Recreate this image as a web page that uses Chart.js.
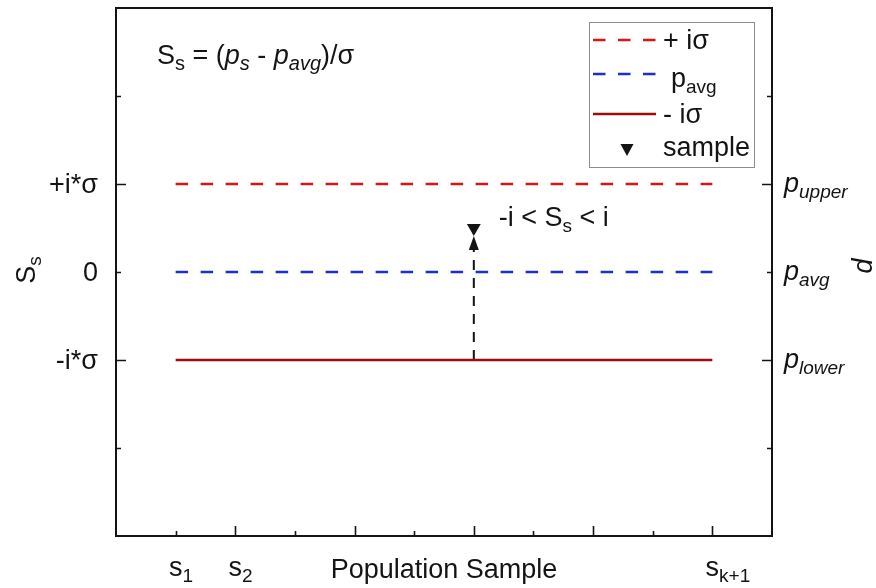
<!DOCTYPE html>
<html>
<head>
<meta charset="utf-8">
<script src="https://cdn.jsdelivr.net/npm/chart.js@4.4.1/dist/chart.umd.min.js"></script>
<style>
  html, body { margin: 0; padding: 0; background: #fff; }
  #wrap { width: 876px; height: 588px; }
</style>
</head>
<body>
<div id="wrap"><canvas id="c" width="876" height="588"></canvas></div>
<script>
// ---- chart data ----
const lineX   = [1, 10];          // first and last population sample
const upperY  = [1, 1];           // +iσ limit
const avgY    = [0, 0];           // mean
const lowerY  = [-1, -1];         // -iσ limit
const sampleX = [6];              // the sample being scored
const sampleY = [0.5];
const arrowY  = [-1, 0.5];        // arrow from the lower limit up to the sample

const xTickValues = [1, 2, 10];
const xTickSubs   = ['1', '2', 'k+1'];
const yTickValues = [1, 0, -1];
const yTickLabels = ['+i*σ', '0', '-i*σ'];
const pTickSubs   = ['upper', 'avg', 'lower'];

const FONT = '"Liberation Sans", Arial, sans-serif';
const FS = 27, SUB = 19;
const RED = '#d81414', BLUE = '#1d2ed0', DARK = '#9c0e0e', INK = '#141414';

const pts = (xs, ys) => xs.map((v, i) => ({ x: v, y: ys[i] }));

// draw a run of text pieces (normal / italic / subscript)
function rich(ctx, parts, x, y, align) {
  ctx.save();
  ctx.translate(x, y);
  let w = 0;
  const fonts = parts.map(p => `${p.i ? 'italic ' : ''}${p.s || FS}px ${FONT}`);
  parts.forEach((p, k) => { ctx.font = fonts[k]; w += ctx.measureText(p.t).width; });
  let cx = align === 'right' ? -w : align === 'center' ? -w / 2 : 0;
  ctx.fillStyle = INK;
  ctx.textBaseline = 'alphabetic';
  ctx.textAlign = 'left';
  parts.forEach((p, k) => {
    ctx.font = fonts[k];
    ctx.fillText(p.t, cx, p.dy || 0);
    cx += ctx.measureText(p.t).width;
  });
  ctx.restore();
}

function richRot(ctx, parts, x, y, angle) {
  ctx.save();
  ctx.translate(x, y);
  ctx.rotate(angle);
  rich(ctx, parts, 0, 0, 'center');
  ctx.restore();
}

const sub = (t, i, s) => ({ t, s: s || SUB, dy: 6, i });

const frame = {
  id: 'frame',
  afterDraw(chart) {
    const { ctx, chartArea: a, scales: { x, y } } = chart;
    ctx.save();
    ctx.strokeStyle = INK;
    ctx.lineWidth = 2;
    ctx.strokeRect(a.left, a.top, a.right - a.left, a.bottom - a.top);

    // inward ticks
    ctx.beginPath();
    x.ticks.forEach(t => {
      if (t.value <= x.min || t.value >= x.max) return;
      const px = Math.round(x.getPixelForValue(t.value)) + 0.5;
      const len = t.value % 2 === 0 ? 10 : 5;
      ctx.moveTo(px, a.bottom); ctx.lineTo(px, a.bottom - len);
    });
    y.ticks.forEach(t => {
      if (t.value <= y.min || t.value >= y.max) return;
      const py = Math.round(y.getPixelForValue(t.value)) + 0.5;
      const len = Math.abs(t.value) === 1 ? 10 : 5;
      ctx.moveTo(a.left, py); ctx.lineTo(a.left + len, py);
      ctx.moveTo(a.right, py); ctx.lineTo(a.right - len, py);
    });
    ctx.lineWidth = 1.6;
    ctx.stroke();

    // left tick labels
    yTickValues.forEach((v, k) => {
      rich(ctx, [{ t: yTickLabels[k] }], a.left - 18, y.getPixelForValue(v) + 9, 'right');
    });
    // right tick labels
    yTickValues.forEach((v, k) => {
      rich(ctx, [{ t: 'p', i: true }, sub(pTickSubs[k], true)], a.right + 12, y.getPixelForValue(v) + 7.5, 'left');
    });
    // bottom tick labels: the "s" sits on the tick, index trails as a subscript
    xTickValues.forEach((v, k) => {
      const px = x.getPixelForValue(v);
      ctx.font = `${FS}px ${FONT}`;
      const ws = ctx.measureText('s').width;
      rich(ctx, [{ t: 's' }, sub(xTickSubs[k])], px - ws / 2, 576, 'left');
    });

    // axis titles
    rich(ctx, [{ t: 'Population Sample' }], (a.left + a.right) / 2, 578, 'center');
    richRot(ctx, [{ t: 'S' }, sub('s')], 35, (a.top + a.bottom) / 2 - 2, -Math.PI / 2);
    richRot(ctx, [{ t: 'p', i: true }], 857, (a.top + a.bottom) / 2 - 6, Math.PI / 2);

    // formula
    rich(ctx, [{ t: 'S' }, sub('s', false, 20), { t: ' = (' }, { t: 'p', i: true }, sub('s', true, 20),
               { t: ' - ' }, { t: 'p', i: true }, sub('avg', true, 20), { t: ')/σ' }],
         a.left + 41, 64, 'left');

    // arrowhead and range note at the sample
    const sx = x.getPixelForValue(sampleX[0]);
    const sy = y.getPixelForValue(sampleY[0]);
    ctx.fillStyle = INK;
    ctx.beginPath();
    ctx.moveTo(sx, sy + 8);
    ctx.lineTo(sx - 5, sy + 22);
    ctx.lineTo(sx + 5, sy + 22);
    ctx.closePath();
    ctx.fill();
    rich(ctx, [{ t: '-i < S' }, sub('s'), { t: ' < i' }], sx + 25, sy - 2, 'left');

    // legend
    const ds = chart.data.datasets;
    const L = { x: 589, y: 22, w: 165, h: 145 };
    ctx.lineWidth = 1;
    ctx.strokeStyle = '#8c8c8c';
    ctx.strokeRect(L.x + 0.5, L.y + 0.5, L.w, L.h);
    const rows = [40, 74, 114, 150];
    [0, 1, 2].forEach(k => {
      ctx.beginPath();
      ctx.strokeStyle = ds[k].borderColor;
      ctx.lineWidth = ds[k].borderWidth;
      ctx.setLineDash(ds[k].borderDash || []);
      ctx.moveTo(593, rows[k]); ctx.lineTo(656, rows[k]);
      ctx.stroke();
    });
    ctx.setLineDash([]);
    ctx.fillStyle = INK;
    ctx.beginPath();
    ctx.moveTo(620.5, rows[3] - 6);
    ctx.lineTo(633.5, rows[3] - 6);
    ctx.lineTo(627, rows[3] + 6);
    ctx.closePath();
    ctx.fill();
    rich(ctx, [{ t: '+ iσ' }], 663, rows[0] + 9, 'left');
    rich(ctx, [{ t: 'p' }, sub('avg')], 671, rows[1] + 13, 'left');
    rich(ctx, [{ t: '- iσ' }], 663, rows[2] + 9, 'left');
    rich(ctx, [{ t: 'sample' }], 663, rows[3] + 6, 'left');
    ctx.restore();
  }
};

new Chart(document.getElementById('c'), {
  type: 'line',
  data: {
    datasets: [
      { label: '+ iσ', data: pts(lineX, upperY), borderColor: RED, borderWidth: 2.5,
        borderDash: [12.5, 12.5], pointRadius: 0 },
      { label: 'p avg', data: pts(lineX, avgY), borderColor: BLUE, borderWidth: 2.5,
        borderDash: [12.5, 12.5], pointRadius: 0 },
      { label: '- iσ', data: pts(lineX, lowerY), borderColor: DARK, borderWidth: 2.5,
        pointRadius: 0 },
      { label: 'arrow', data: pts([sampleX[0], sampleX[0]], arrowY), borderColor: INK,
        borderWidth: 2, borderDash: [10, 8], pointRadius: 0 },
      { label: 'sample', data: pts(sampleX, sampleY), showLine: false, pointStyle: 'triangle',
        rotation: 180, pointRadius: 8, backgroundColor: INK, borderColor: INK, borderWidth: 0 }
    ]
  },
  options: {
    responsive: false,
    animation: false,
    events: [],
    layout: { padding: { left: 116, right: 104, top: 7, bottom: 52 } },
    plugins: { legend: { display: false }, tooltip: { enabled: false } },
    scales: {
      x: { type: 'linear', min: 0, max: 11, display: false, ticks: { stepSize: 1 } },
      y: { type: 'linear', min: -3, max: 3, display: false, ticks: { stepSize: 1 } }
    }
  },
  plugins: [frame]
});
</script>
</body>
</html>
